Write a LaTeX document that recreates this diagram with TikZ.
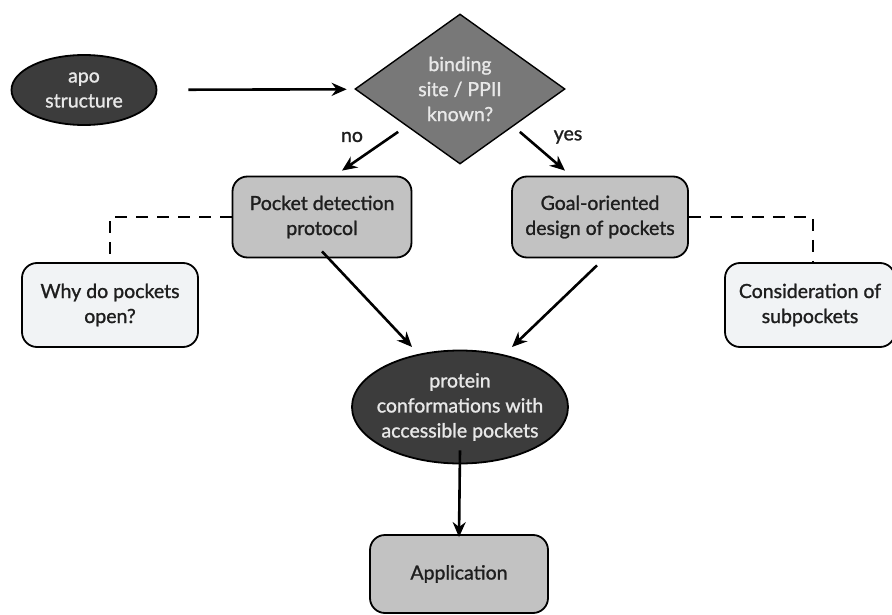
\documentclass[tikz,border=0pt]{standalone}
\usepackage{fontspec}
\setmainfont{Lato}[FakeBold=1.2]
\usetikzlibrary{shapes.geometric,arrows.meta}
\definecolor{darkfill}{HTML}{3C3C3C}
\definecolor{midfill}{HTML}{787878}
\definecolor{boxfill}{HTML}{C2C2C2}
\definecolor{lightfill}{HTML}{F1F3F5}
\definecolor{inktext}{HTML}{1E1E1E}
\definecolor{paletext}{HTML}{E8E8E8}
\tikzset{
  every node/.style={font=\fontsize{19.5}{25}\selectfont, align=center, inner sep=0pt},
  darkoval/.style={ellipse, draw=black, line width=1.8pt, fill=darkfill, text=paletext},
  decision/.style={diamond, draw=black, line width=1.4pt, fill=midfill, text=paletext,
    minimum width=210pt, minimum height=150pt},
  graybox/.style={rectangle, rounded corners=15pt, draw=black, line width=1.8pt, fill=boxfill,
    text=inktext, minimum width=179pt, minimum height=81pt},
  lightbox/.style={rectangle, rounded corners=15pt, draw=black, line width=1.8pt, fill=lightfill,
    text=inktext, minimum width=176pt, minimum height=84pt},
  flow/.style={line width=2.6pt, -{Stealth[length=15pt,width=13pt]}},
  aside/.style={line width=2.8pt, dash pattern=on 12pt off 9pt},
  answer/.style={text=inktext, fill=white, inner sep=2pt}
}
\begin{document}
\begin{tikzpicture}[x=1pt,y=-1pt]
\useasboundingbox (0,0) rectangle (892,615);

\node[darkoval, minimum width=145pt, minimum height=70pt] (apo) at (84,90) {apo\\structure};
\node[decision] (dec) at (460,89) {binding\\site / PPII\\known?};
\node[graybox] (pd) at (322,217) {Pocket detection\\protocol};
\node[graybox, minimum width=176pt] (go) at (600,217) {Goal-oriented\\design of pockets};
\node[lightbox] (why) at (110,305) {Why do pockets\\open?};
\node[lightbox, minimum width=170pt] (cons) at (810,305) {Consideration of\\subpockets};
\node[darkoval, inner xsep=-16pt, minimum width=216pt, minimum height=113pt] (prot) at (460,407)
  {protein\\conformations with\\accessible pockets};
\node[graybox, minimum width=178pt, minimum height=78pt] (app) at (459,574) {Application};

% answer labels beside the decision
\node[answer] (no) at (352,137) {no};
\node[answer] (yes) at (568,137) {yes};

% main flow
\draw[flow, shorten <=31pt, shorten >=8pt] (apo) -- (dec);
\draw[flow] ([shift={(-9,5)}]dec.south west) -- ([shift={(20,-5)}]pd.north);
\draw[flow] ([shift={(7,5)}]dec.south east) -- ([shift={(-35,-5)}]go.north);
\draw[flow] ([yshift=7]pd.south) -- ([shift={(-48,-60)}]prot.center);
\draw[flow] ([shift={(-3,7)}]go.south) -- ([shift={(52,-60)}]prot.center);
\draw[flow] ([yshift=14]prot.south) -- ([yshift=-3]app.north);

% side questions
\draw[aside] (pd.west) -| (why.north);
\draw[aside] (go.east) -| ([xshift=3]cons.north);
\end{tikzpicture}
\end{document}
